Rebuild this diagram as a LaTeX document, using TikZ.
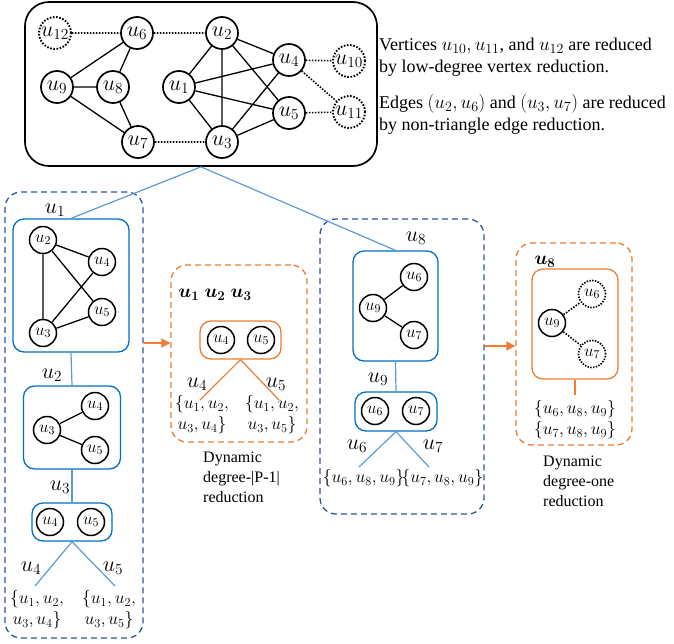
\RequirePackage{fix-cm}
\documentclass[tikz,border=0pt]{standalone}
\usepackage{fontspec}
\setmainfont{Liberation Serif}
\usepackage{bm}
\DeclareMathSizes{18}{19}{14}{10}
\usetikzlibrary{arrows.meta}
\definecolor{dkblue}{HTML}{2F5597}
\definecolor{mdblue}{HTML}{0070C0}
\definecolor{ltblue}{HTML}{5B9BD5}
\definecolor{orng}{HTML}{ED7D31}
\tikzset{
  big/.style={circle, draw, line width=1.7pt, minimum size=32pt, inner sep=0pt, font=\fontsize{22}{22}\selectfont},
  bigdot/.style={big, dash pattern=on 1.6pt off 1.6pt, line width=1.9pt},
  sm/.style={circle, draw, line width=1.5pt, minimum size=27pt, inner sep=0pt, font=\fontsize{17}{17}\selectfont},
  smdot/.style={sm, dash pattern=on 1.4pt off 1.4pt, line width=1.7pt},
  edg/.style={line width=1.3pt},
  dotedg/.style={line width=1.6pt, dash pattern=on 1.5pt off 1.5pt},
  bbox/.style={draw=mdblue, line width=1.3pt, rounded corners=11pt, inner sep=0pt},
  obox/.style={draw=orng, line width=1.3pt, rounded corners=11pt, inner sep=0pt},
  bdash/.style={draw=dkblue, line width=1.3pt, dash pattern=on 6pt off 4pt, rounded corners=16pt, inner sep=0pt},
  odash/.style={draw=orng, line width=1.3pt, dash pattern=on 6pt off 4pt, rounded corners=16pt, inner sep=0pt},
  bline/.style={draw=ltblue, line width=1.2pt},
  oline/.style={draw=orng, line width=1.2pt},
  lab/.style={inner sep=0pt, font=\fontsize{22}{22}\selectfont},
  sets/.style={inner sep=0pt, align=center, font=\fontsize{17.5}{21}\selectfont},
  boldlab/.style={inner sep=0pt, font=\fontsize{19}{19}\selectfont},
  captxt/.style={inner sep=0pt, align=left, font=\fontsize{16}{20}\selectfont},
  note/.style={inner sep=0pt, align=left, font=\fontsize{18}{22}\selectfont},
  oarrow/.style={draw=orng, line width=1.6pt, -{Triangle[length=9pt,width=9pt]}}
}
\begin{document}
\begin{tikzpicture}[x=1pt,y=-1pt]
\useasboundingbox (0,0) rectangle (674,643);
% ---------- top graph ----------
\node[draw, line width=1.7pt, rounded corners=24pt, minimum width=352pt, minimum height=164pt] (tb) at (201,84) {};
\node[bigdot] (t12) at (55,33) {$u_{12}$};
\node[big] (t6) at (137,33) {$u_6$};
\node[big] (t2) at (222,33) {$u_2$};
\node[big] (t4) at (289,60) {$u_4$};
\node[bigdot] (t10) at (349,61) {$u_{10}$};
\node[big] (t9) at (57,87) {$u_9$};
\node[big] (t8) at (113,87) {$u_8$};
\node[big] (t1) at (179,87) {$u_1$};
\node[big] (t5) at (289,113) {$u_5$};
\node[bigdot] (t11) at (349,112) {$u_{11}$};
\node[big] (t7) at (138,142) {$u_7$};
\node[big] (t3) at (222,142) {$u_3$};
\draw[edg] (t6)--(t9) (t6)--(t8) (t9)--(t8) (t9)--(t7) (t8)--(t7);
\draw[edg] (t2)--(t1) (t2)--(t3) (t2)--(t4) (t2)--(t5) (t1)--(t4) (t1)--(t5) (t1)--(t3) (t3)--(t4) (t3)--(t5);
\draw[dotedg] (t12)--(t6) (t6)--(t2) (t7)--(t3) (t4)--(t10) (t4)--(t11) (t5)--(t11);
\node[note, anchor=west] (n1) at (379,57) {Vertices $u_{10}, u_{11}$, and $u_{12}$ are reduced\\by low-degree vertex reduction.};
\node[note, anchor=west] (n2) at (379,114) {Edges $(u_2, u_6)$ and $(u_3, u_7)$ are reduced\\by non-triangle edge reduction.};
% ---------- left column ----------
\node[bdash, minimum width=138pt, minimum height=446pt] (ld) at (74,415) {};
\node[bbox, minimum width=116pt, minimum height=133pt] (b1) at (71,285.5) {};
\node[sm] (a2) at (43,240) {$u_2$};
\node[sm] (a4) at (102,262) {$u_4$};
\node[sm] (a5) at (102,312) {$u_5$};
\node[sm] (a3) at (43,333) {$u_3$};
\draw[edg] (a2)--(a3) (a2)--(a4) (a2)--(a5) (a3)--(a4) (a3)--(a5);
\node[bbox, minimum width=97pt, minimum height=83pt] (b2) at (72,427.5) {};
\node[sm] (c3) at (47,430) {$u_3$};
\node[sm] (c4) at (95,406) {$u_4$};
\node[sm] (c5) at (95,450) {$u_5$};
\draw[edg] (c3)--(c4) (c3)--(c5);
\node[bbox, minimum width=80pt, minimum height=38pt] (b3) at (72,522) {};
\node[sm] (d4) at (50,522) {$u_4$};
\node[sm] (d5) at (91,522) {$u_5$};
\draw[bline] (tb.south) -- (b1.north);
\draw[bline] (b1.south) -- (b2.north);
\draw[bline] (b2.south) -- (b3.north);
\coordinate (e4) at (35,586);
\coordinate (e5) at (115,586);
\draw[bline] (b3.south) -- (e4);
\draw[bline] (b3.south) -- (e5);
\node[lab] (l1) at (55,210) {$u_1$};
\node[lab] (l2) at (52,375) {$u_2$};
\node[lab] (l3) at (60,487) {$u_3$};
\node[lab] (l4) at (31,568) {$u_4$};
\node[lab] (l5) at (113,568) {$u_5$};
\node[sets] (s1) at (37,610) {$\{u_1,u_2,$\\$u_3,u_4\}$};
\node[sets] (s2) at (109,610) {$\{u_1,u_2,$\\$u_3,u_5\}$};
% ---------- middle orange ----------
\node[odash, minimum width=136pt, minimum height=177pt] (mo) at (239,353.5) {};
\node[boldlab] (bu) at (215,295) {$\bm{u_1}\;\bm{u_2}\;\bm{u_3}$};
\node[obox, minimum width=81pt, minimum height=38pt] (ob) at (240.5,340) {};
\node[sm] (m4) at (221,340) {$u_4$};
\node[sm] (m5) at (261,340) {$u_5$};
\coordinate (f4) at (200,400);
\coordinate (f5) at (279,400);
\draw[oline] (ob.south) -- (f4);
\draw[oline] (ob.south) -- (f5);
\node[lab] (ml4) at (197,384) {$u_4$};
\node[lab] (ml5) at (276,384) {$u_5$};
\node[sets] (s3) at (202,415) {$\{u_1,u_2,$\\$u_3,u_4\}$};
\node[sets] (s4) at (272,415) {$\{u_1,u_2,$\\$u_3,u_5\}$};
\node[captxt, anchor=west] (cp1) at (203,477) {Dynamic\\degree-|P-1|\\reduction};
\draw[oarrow] (ld.east |- 0,343) -- (mo.west |- 0,343);
% ---------- right column ----------
\node[bdash, minimum width=164pt, minimum height=295pt] (rd) at (402,366.5) {};
\node[bbox, minimum width=85pt, minimum height=110pt] (r1) at (395.5,306) {};
\node[sm] (r6) at (414,277) {$u_6$};
\node[sm] (r9) at (373,308) {$u_9$};
\node[sm] (r7) at (414,335) {$u_7$};
\draw[edg] (r9)--(r6) (r9)--(r7);
\node[bbox, minimum width=82pt, minimum height=39pt] (r2) at (396,411.5) {};
\node[sm] (q6) at (375,411) {$u_6$};
\node[sm] (q7) at (416,411) {$u_7$};
\draw[bline] (tb.south) -- (r1.north);
\draw[bline] (r1.south) -- (r2.north);
\coordinate (g6) at (359,467);
\coordinate (g7) at (429,467);
\draw[bline] (r2.south) -- (g6);
\draw[bline] (r2.south) -- (g7);
\node[lab] (rl8) at (416,238) {$u_8$};
\node[lab] (rl9) at (378,379) {$u_9$};
\node[lab] (rl6) at (357,446) {$u_6$};
\node[lab] (rl7) at (433,446) {$u_7$};
\node[sets] (s5) at (403,478) {$\{u_6,u_8,u_9\}\!\{u_7,u_8,u_9\}$};
% ---------- far right orange ----------
\node[odash, minimum width=116pt, minimum height=202pt] (fo) at (574,344) {};
\node[boldlab] (bu8) at (545,262) {$\bm{u_8}$};
\node[obox, minimum width=86pt, minimum height=110pt] (fb) at (575,324) {};
\node[sm] (p9) at (552,323) {$u_9$};
\node[smdot] (p6) at (592,294) {$u_6$};
\node[smdot] (p7) at (592,354) {$u_7$};
\draw[dotedg] (p9)--(p6) (p9)--(p7);
\coordinate (h) at (575,395);
\draw[oline] (fb.south) -- (h);
\node[sets] (s6) at (575,420) {$\{u_6,u_8,u_9\}$\\$\{u_7,u_8,u_9\}$};
\node[captxt, anchor=west] (cp2) at (543,481) {Dynamic\\degree-one\\reduction};
\draw[oarrow] (rd.east |- 0,346) -- (fo.west |- 0,346);
\end{tikzpicture}
\end{document}
